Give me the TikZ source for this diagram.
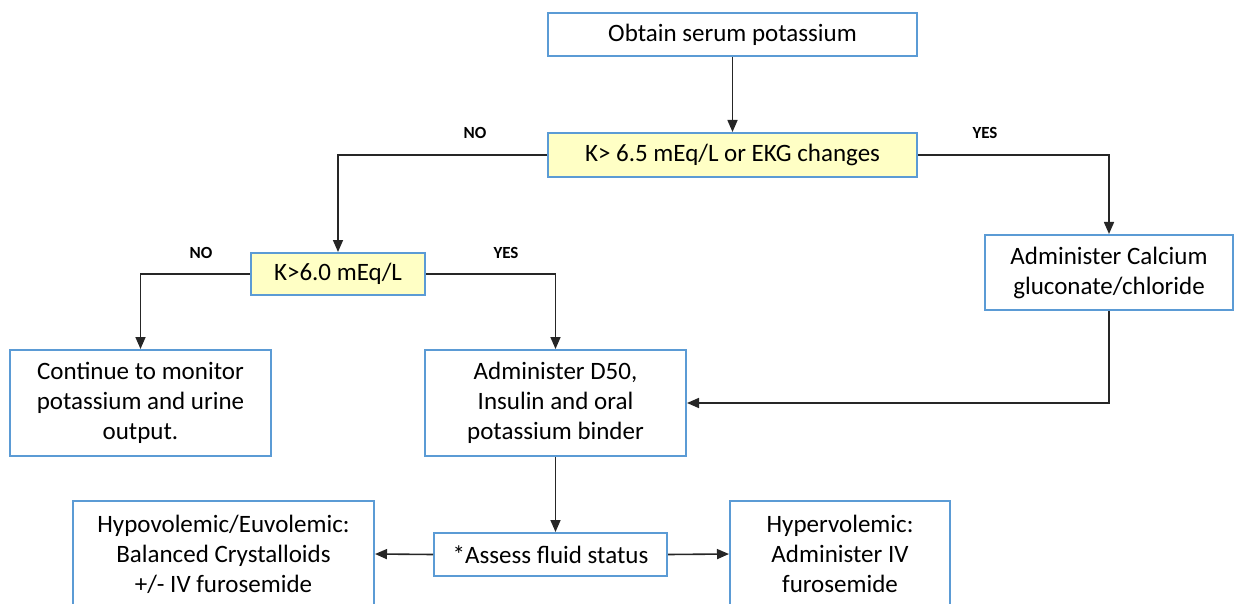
\documentclass[tikz,border=0pt]{standalone}
\usepackage{fontspec}
\setmainfont{Carlito}
\usetikzlibrary{arrows.meta}
\definecolor{BLUE}{HTML}{5B9BD5}
\definecolor{YELLOW_A}{HTML}{FFFFC5}
\definecolor{LINE}{HTML}{262626}
\tikzset{
	every node/.style = {font=\fontsize{25}{30}\selectfont},
	box/.style = {draw=BLUE, line width=2pt, fill=white, align=center, inner sep=0pt},
	test/.style = {box, fill=YELLOW_A},
	answer/.style = {font=\fontsize{17}{20}\selectfont\bfseries},
	link/.style = {draw=LINE, line width=1.6pt, -{Triangle[length=12pt,width=10pt]}}
}
\begin{document}
\begin{tikzpicture}[x=1pt, y=-1pt]
		\useasboundingbox (0,0) rectangle (1234,604);
		
		% tests
		\node[box, minimum width=369, minimum height=43] (obtain) at (732.5,34.5) {Obtain serum potassium};
		\node[test, minimum width=369, minimum height=44] (k65) at (732.5,155) {K> 6.5 mEq/L or EKG changes};
		\node[test, minimum width=174, minimum height=42] (k60) at (338,274) {K>6.0 mEq/L};
		
		% treatments
		\node[box, minimum width=248, minimum height=75] (calcium) at (1109,272.5) {Administer Calcium\\gluconate/chloride};
		\node[box, minimum width=261, minimum height=106] (monitor) at (140.5,403) {Continue to monitor\\potassium and urine\\output.};
		\node[box, minimum width=261, minimum height=106] (d50) at (555.5,403) {Administer D50,\\Insulin and oral\\potassium binder};
		
		% fluid status
		\node[box, minimum width=233, minimum height=43] (assess) at (550.5,554.5) {*Assess fluid status};
		\node[box, minimum width=301, minimum height=106] (hypo) at (223.5,554) {Hypovolemic/Euvolemic:\\Balanced Crystalloids\\+/- IV furosemide};
		\node[box, minimum width=220, minimum height=106] (hyper) at (840,554) {Hypervolemic:\\Administer IV\\furosemide};
		
		% answers
		\node[answer] (no1) at (475,133) {NO};
		\node[answer] (yes1) at (985,133) {YES};
		\node[answer] (no2) at (201,253) {NO};
		\node[answer] (yes2) at (506,253) {YES};
		
		% arrows
		\draw[link] (obtain) -- (k65);
		\draw[link] (k65.west) -| (k60.north);
		\draw[link] (k65.east) -| (calcium.north);
		\draw[link] (k60.west) -| (monitor.north);
		\draw[link] (k60.east) -| (d50.north);
		\draw[link] (calcium.south) |- (d50.east);
		\draw[link] (d50.south) -- (d50.south |- assess.north);
		\draw[link] (assess.west) -- (hypo.east);
		\draw[link] (assess.east) -- (hyper.west);
	\end{tikzpicture}
\end{document}
